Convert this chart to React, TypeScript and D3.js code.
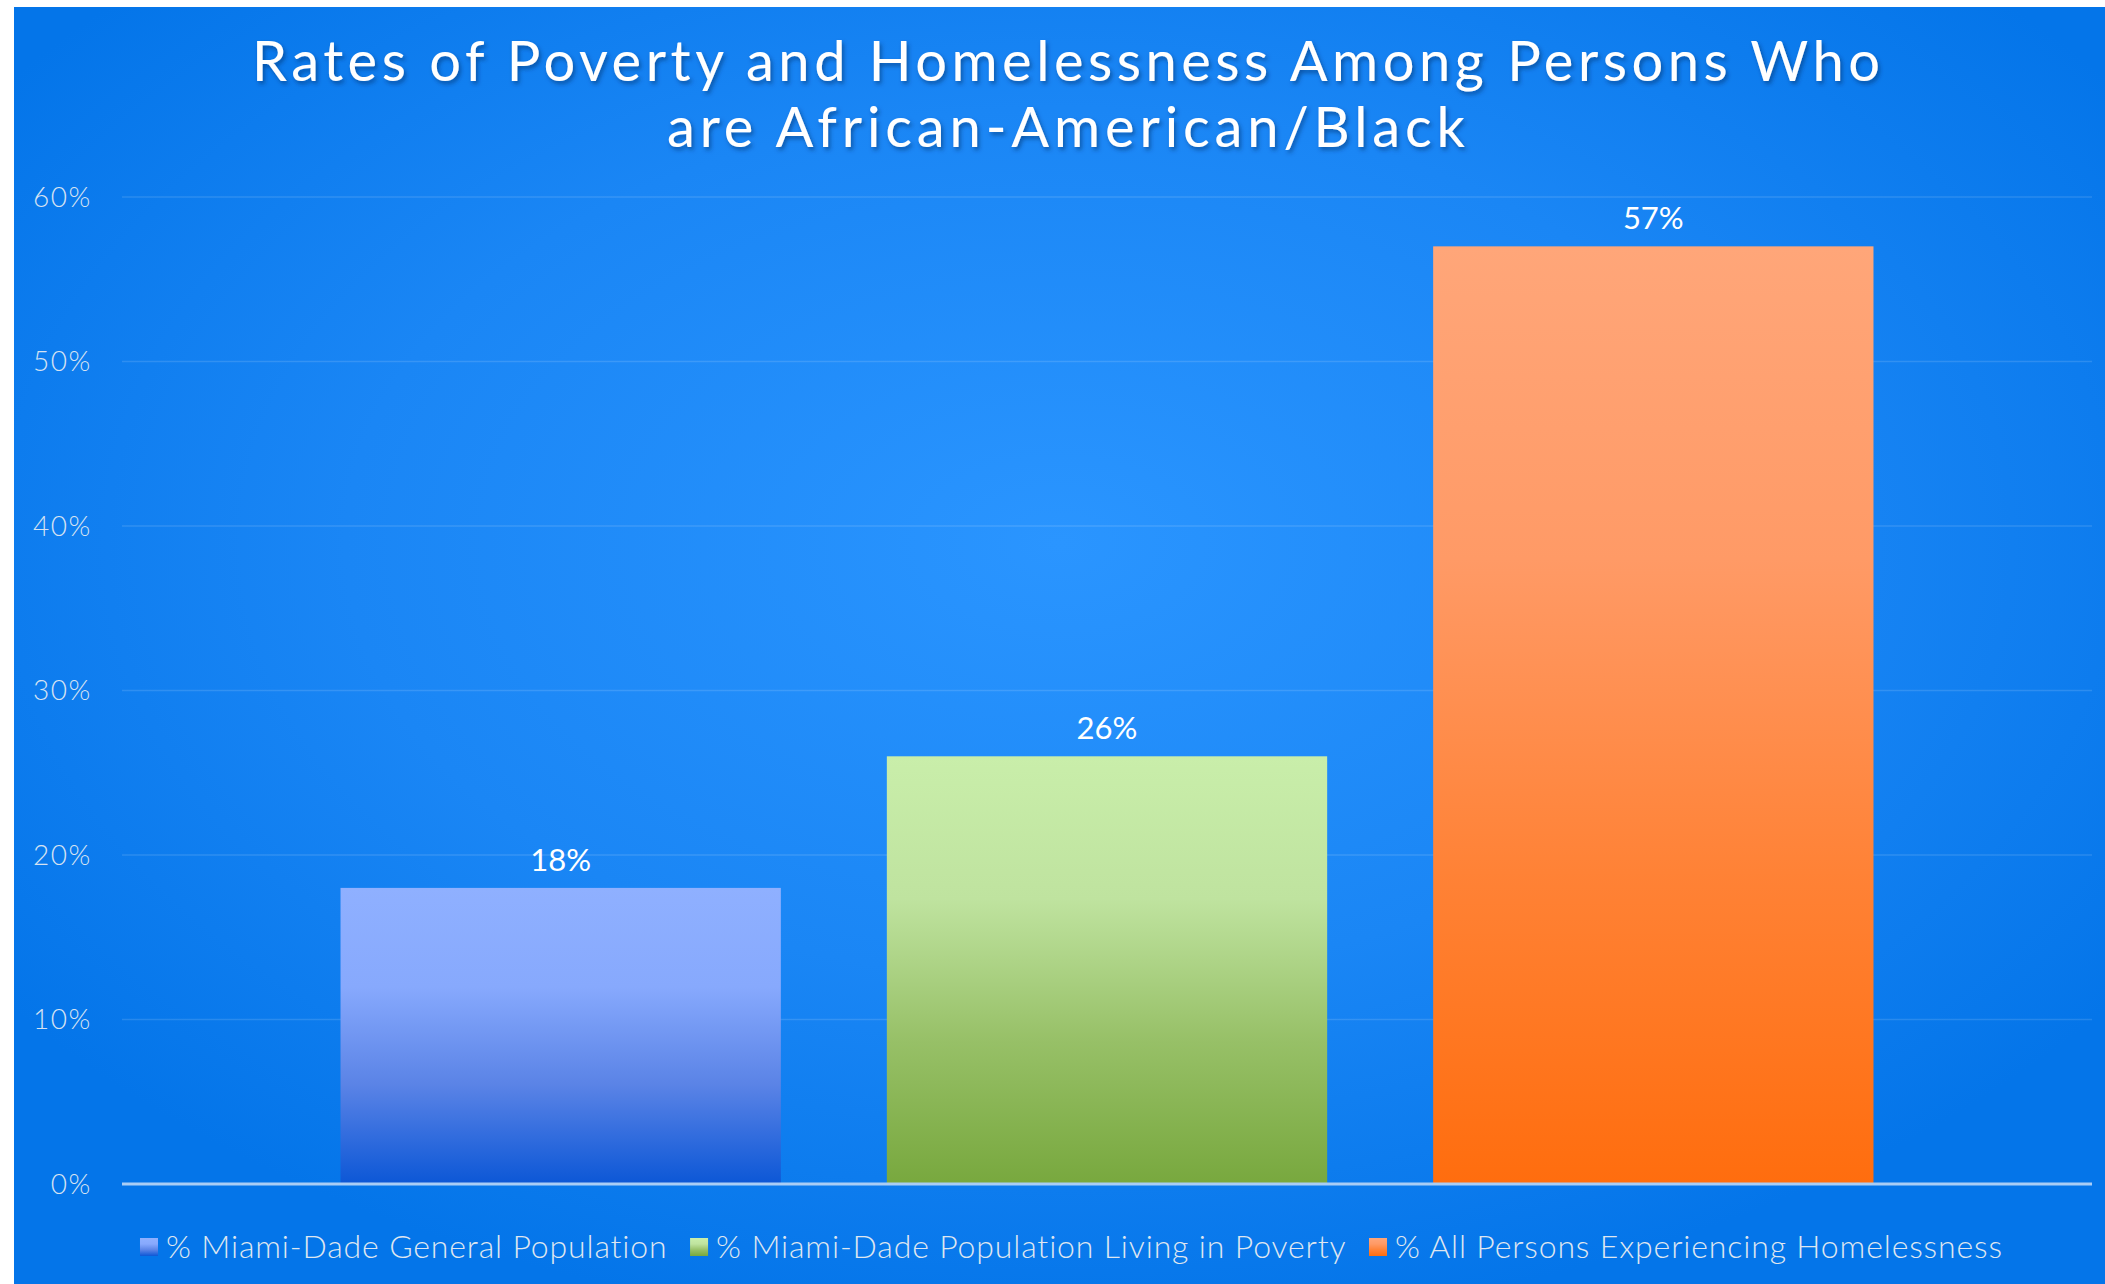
import React from 'react';
import * as d3 from 'd3';

// chart data
const titleLines = ['Rates of Poverty and Homelessness Among Persons Who', 'are African-American/Black'];
const seriesNames = [
  '% Miami-Dade General Population',
  '% Miami-Dade Population Living in Poverty',
  '% All Persons Experiencing Homelessness'
];
const seriesValues = [0.18, 0.26, 0.57];
const yTicks = [0, 0.1, 0.2, 0.3, 0.4, 0.5, 0.6];

// gradient stops per series (top -> bottom)
const barGradients = [
  ['#8fb0ff', '#87a9fd', '#5a83e6', '#0c57d6'],
  ['#c9eeaa', '#bfe39f', '#97c067', '#78a83e'],
  ['#ffa679', '#ff9a66', '#ff8236', '#ff6d0e']
];

const W = 2105;
const H = 1284;
const FONT = 'Lato, "Open Sans", sans-serif';

const measure = (() => {
  let ctx: CanvasRenderingContext2D | null = null;
  return (text: string, font: string) => {
    if (!ctx) ctx = document.createElement('canvas').getContext('2d');
    if (!ctx) return text.length * 16;
    ctx.font = font;
    return ctx.measureText(text).width;
  };
})();

const App: React.FC = () => {
  const plot = { left: 122, right: 2092, top: 197, bottom: 1184 };

  const y = d3.scaleLinear().domain([0, 0.6]).range([plot.bottom, plot.top]);
  const x = d3.scaleBand<string>()
    .domain(seriesNames)
    .range([plot.left, plot.right])
    .paddingInner(0.194)
    .paddingOuter(0.4);
  const fmt = d3.format('.0%');

  // legend layout
  const legendFont = `300 32px ${FONT}`;
  const ls = 0.85;
  const sq = 18;
  const sqGap = 8;
  const itemGap = 22;
  const widths = seriesNames.map(s => measure(s, legendFont) + s.length * ls);
  const total = d3.sum(widths) + seriesNames.length * (sq + sqGap) + itemGap * (seriesNames.length - 1);
  let lx = 1072 - total / 2;
  const legendItems = seriesNames.map((s, i) => {
    const item = { name: s, x: lx, i };
    lx += sq + sqGap + widths[i] + itemGap;
    return item;
  });

  return (
    <svg width={W} height={H} style={{ position: 'absolute', left: 0, top: 0, display: 'block' }}>
      <defs>
        <radialGradient id="bg" cx="50%" cy="42%" r="62%">
          <stop offset="0%" stopColor="#2a95ff" />
          <stop offset="55%" stopColor="#1a86f5" />
          <stop offset="100%" stopColor="#0475e9" />
        </radialGradient>
        {barGradients.map((stops, i) => (
          <linearGradient key={i} id={`bar${i}`} x1="0" y1="0" x2="0" y2="1">
            {stops.map((c, j) => (
              <stop key={j} offset={`${(j / (stops.length - 1)) * 100}%`} stopColor={c} />
            ))}
          </linearGradient>
        ))}
        <filter id="shadow" x="-5%" y="-20%" width="110%" height="150%">
          <feDropShadow dx="2" dy="3" stdDeviation="2" floodColor="#00306a" floodOpacity="0.55" />
        </filter>
      </defs>

      <rect x={0} y={0} width={W} height={H} fill="#fff" />
      <rect x={14} y={7} width={W - 14} height={H - 7} fill="url(#bg)" />

      {/* title */}
      <g filter="url(#shadow)" fill="#fff" fontFamily={FONT} fontSize={56} textAnchor="middle">
        {titleLines.map((t, i) => (
          <text key={i} x={1066} y={81 + i * 66} textLength={i === 0 ? 1628 : 798} lengthAdjust="spacing">{t}</text>
        ))}
      </g>

      {/* gridlines */}
      {yTicks.filter(t => t > 0).map(t => (
        <line key={t} x1={plot.left} x2={plot.right} y1={y(t)} y2={y(t)} stroke="#ffffff" strokeOpacity={0.13} strokeWidth={1.5} />
      ))}

      {/* y tick labels */}
      {yTicks.map(t => (
        <text key={t} x={92} y={y(t)} dy="0.35em" textAnchor="end" fill="#d6e2f2" fontFamily={FONT} fontWeight={300} fontSize={28} letterSpacing={1.6}>
          {fmt(t)}
        </text>
      ))}

      {/* bars */}
      {seriesNames.map((s, i) => (
        <rect key={s} x={x(s)} y={y(seriesValues[i])} width={x.bandwidth()} height={y(0) - y(seriesValues[i])} fill={`url(#bar${i})`} />
      ))}

      {/* baseline */}
      <line x1={plot.left} x2={plot.right} y1={y(0)} y2={y(0)} stroke="#a9cdf5" strokeWidth={3} />

      {/* value labels */}
      {seriesNames.map((s, i) => (
        <text key={s} x={(x(s) ?? 0) + x.bandwidth() / 2} y={y(seriesValues[i]) - 17} textAnchor="middle" fill="#fff" fontFamily={FONT} fontSize={31}>
          {fmt(seriesValues[i])}
        </text>
      ))}

      {/* legend */}
      {legendItems.map(it => (
        <g key={it.name}>
          <rect x={it.x} y={1238} width={sq} height={sq} fill={`url(#bar${it.i})`} />
          <text x={it.x + sq + sqGap} y={1258} fill="#dfe6f0" fontFamily={FONT} fontWeight={300} fontSize={32} letterSpacing={ls}>{it.name}</text>
        </g>
      ))}
    </svg>
  );
};

export default App;
